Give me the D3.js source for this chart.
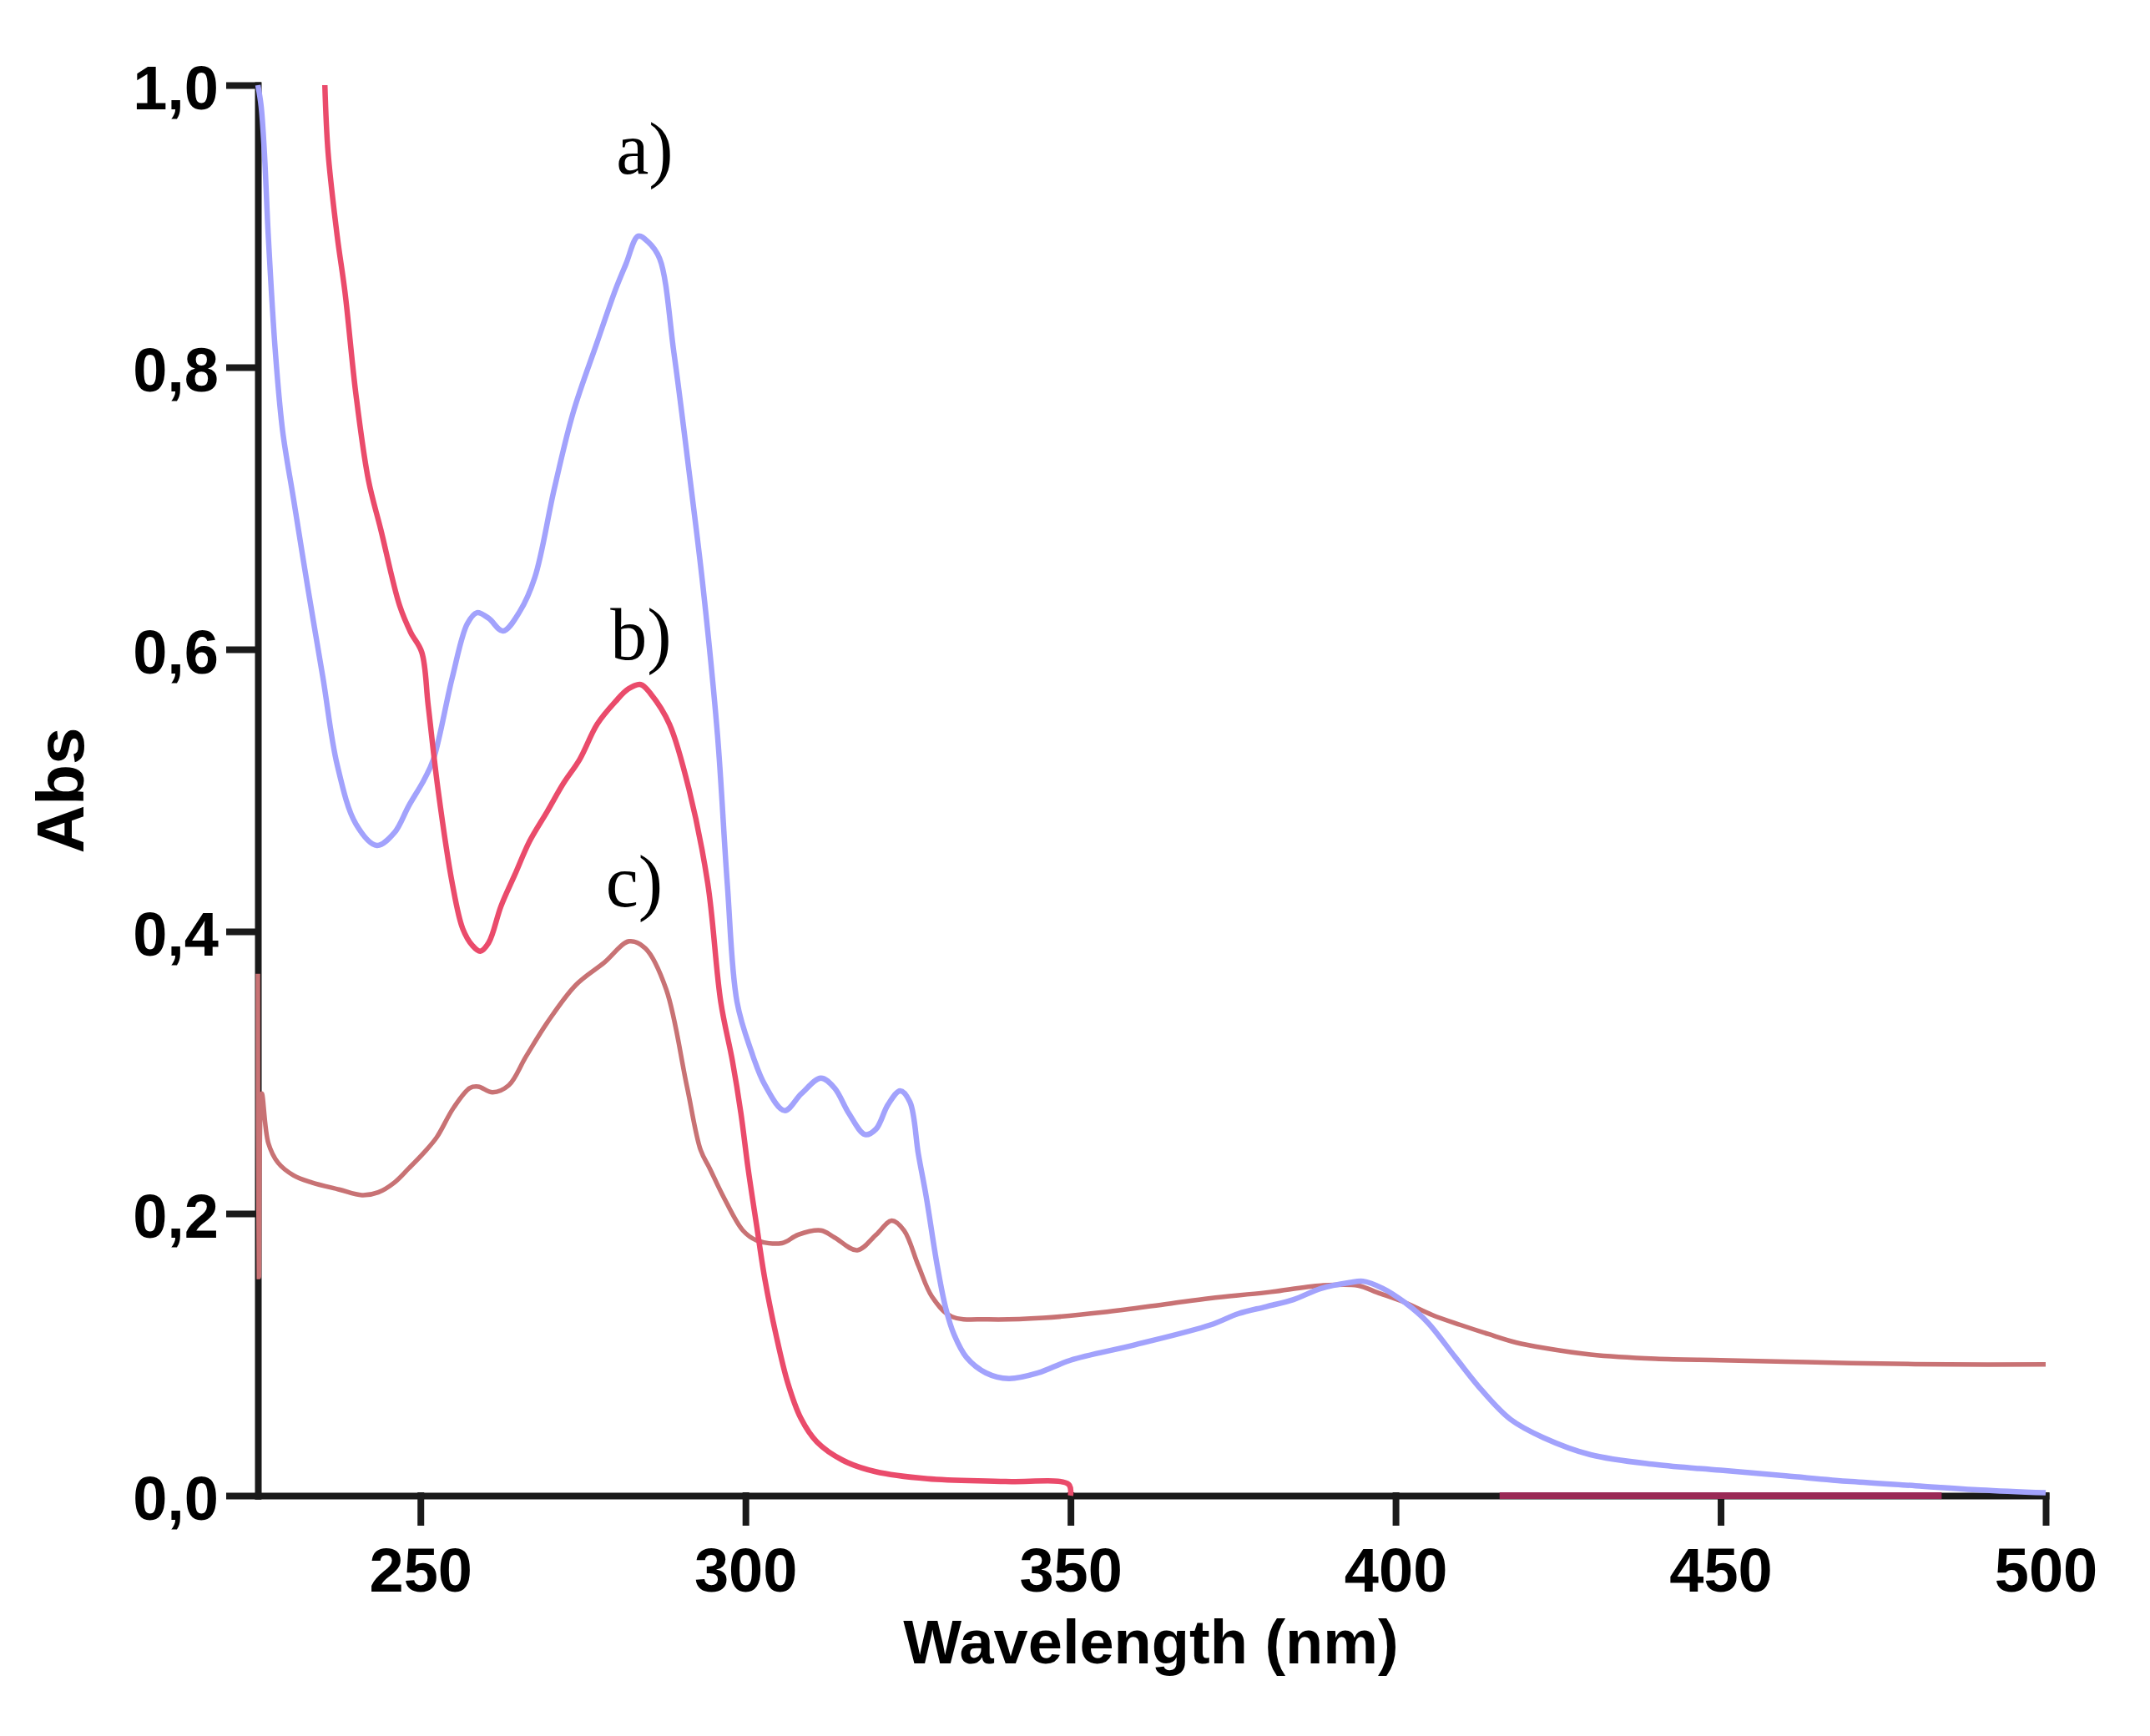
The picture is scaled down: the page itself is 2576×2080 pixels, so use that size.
<!DOCTYPE html>
<html>
<head>
<meta charset="utf-8">
<script src="https://cdn.jsdelivr.net/npm/d3@7"></script>
<style>
  html, body { margin: 0; padding: 0; background: #fff; }
  svg { display: block; }
</style>
</head>
<body>
<svg id="chart" width="2576" height="2080"></svg>
<script>
// spectra: [wavelength nm, absorbance]
const seriesA = [
  [225, 1.0], [225.5, 0.985], [226, 0.952], [226.6, 0.893], [227.7, 0.81], [228.8, 0.755],
  [230.5, 0.706], [232.7, 0.643], [235, 0.580], [237.2, 0.518], [240.1, 0.476], [243.3, 0.461],
  [246, 0.470], [248.2, 0.489], [250.5, 0.507], [252, 0.522], [254.9, 0.580], [257.2, 0.618],
  [258.7, 0.626], [260.5, 0.622], [262.7, 0.613], [265.3, 0.627], [267.6, 0.651], [270.6, 0.714],
  [273.5, 0.768], [277.2, 0.818], [280, 0.855], [281.6, 0.873], [283.5, 0.893], [285, 0.889],
  [286.8, 0.877], [289, 0.810], [291.3, 0.727], [293.5, 0.643], [295.7, 0.539], [297.2, 0.434],
  [298.7, 0.350], [300.9, 0.315], [303, 0.291], [306, 0.273], [308.6, 0.285], [311.6, 0.296],
  [313.7, 0.289], [315.9, 0.271], [318.4, 0.256], [320.1, 0.260], [321.9, 0.277], [323.8, 0.287],
  [325.3, 0.279], [326.6, 0.242], [327.8, 0.212], [329.5, 0.163], [330.8, 0.133], [332.1, 0.114],
  [334, 0.098], [337, 0.087], [340.5, 0.083], [345, 0.087], [350, 0.096], [360, 0.107],
  [371.5, 0.121], [375.8, 0.129], [380.1, 0.134], [384.3, 0.139], [388.6, 0.147], [392.9, 0.151],
  [395, 0.152], [398, 0.147], [401.4, 0.137], [404.9, 0.123], [409.2, 0.098], [413.4, 0.074],
  [417.7, 0.054], [422.8, 0.041], [430, 0.029], [440, 0.022], [450, 0.018], [460, 0.014],
  [470, 0.010], [480, 0.007], [490, 0.004], [500, 0.002]
];

const seriesB = [
  [235.3, 1.0], [235.8, 0.952], [237.2, 0.893], [238.4, 0.853], [240.1, 0.78], [242, 0.72],
  [243.9, 0.685], [246.8, 0.631], [248.5, 0.612], [250.2, 0.598], [251.2, 0.56], [252.7, 0.501],
  [254.9, 0.434], [256.5, 0.402], [258, 0.39], [259.2, 0.386], [260.5, 0.392], [262.4, 0.418],
  [264.5, 0.44], [266.8, 0.464], [269.5, 0.485], [272, 0.505], [274.5, 0.522], [277.2, 0.547],
  [280, 0.563], [282, 0.572], [283.9, 0.575], [285.5, 0.568], [288.3, 0.547], [291.3, 0.501],
  [294.2, 0.434], [296.2, 0.35], [298, 0.308], [299.3, 0.271], [300.4, 0.232], [301.7, 0.192],
  [303, 0.153], [304.7, 0.114], [306.5, 0.08], [308.5, 0.055], [311, 0.038], [315, 0.025],
  [320, 0.017], [328, 0.012], [340, 0.010], [349.7, 0.008], [350, 0.0]
];

const seriesC = [
  [225, 0.37], [225.15, 0.155], [225.6, 0.285], [226.6, 0.250], [228.1, 0.236], [230.5, 0.227],
  [233.3, 0.222], [237.5, 0.217], [241, 0.213], [243.5, 0.215], [246, 0.222], [248.2, 0.232],
  [250.5, 0.243], [252.5, 0.254], [255.1, 0.275], [257.6, 0.289], [258.9, 0.290], [261.1, 0.286],
  [263.6, 0.291], [266.2, 0.311], [269.6, 0.336], [273.9, 0.362], [278.3, 0.378], [282.1, 0.393],
  [284.6, 0.388], [287.8, 0.359], [291, 0.29], [293.1, 0.245], [294.5, 0.232], [296.6, 0.212],
  [299.6, 0.188], [301.7, 0.181], [305.6, 0.179], [308.1, 0.185], [311.6, 0.188], [313.7, 0.183],
  [317.2, 0.174], [320.1, 0.185], [322.5, 0.195], [324.4, 0.188], [326.6, 0.163], [328.7, 0.141],
  [331.7, 0.127], [337.3, 0.125], [345.8, 0.126], [355, 0.130], [365, 0.136], [371.5, 0.140],
  [380.1, 0.144], [388.6, 0.149], [394.2, 0.149], [397.2, 0.144], [401.4, 0.137], [405.7, 0.128],
  [410, 0.121], [414.3, 0.1145], [418.5, 0.1086], [422.8, 0.1047], [430, 0.100], [440, 0.097],
  [450, 0.096], [460, 0.095], [470, 0.094], [485, 0.093], [500, 0.093]
];

// piece of trace lying on the baseline
const seriesZero = [[416, 0], [484, 0]];

const xTicks = [250, 300, 350, 400, 450, 500];
const yTicks = [0, 0.2, 0.4, 0.6, 0.8, 1.0];
const curveLabels = [
  { text: "a)", wl: 280.1, abs: 0.937 },
  { text: "b)", wl: 279.2, abs: 0.593 },
  { text: "c)", wl: 278.5, abs: 0.418 }
];

const svg = d3.select("#chart");

const x = d3.scaleLinear().domain([225, 500]).range([309, 2451]);
const y = d3.scaleLinear().domain([0, 1]).range([1792, 102]);

const line = d3.line()
    .x(d => x(d[0]))
    .y(d => y(d[1]))
    .curve(d3.curveCatmullRom.alpha(0.5));

// axes
const fmt = d => d3.format(".1f")(d).replace(".", ",");

const yAxis = svg.append("g")
    .attr("transform", `translate(${x(225)},0)`)
    .call(d3.axisLeft(y).tickValues(yTicks).tickFormat(fmt).tickSize(34).tickSizeOuter(0).tickPadding(13));

const xAxis = svg.append("g")
    .attr("transform", `translate(0,${y(0)})`)
    .call(d3.axisBottom(x).tickValues(xTicks).tickSize(32).tickSizeOuter(0).tickPadding(30));

[xAxis, yAxis].forEach(a => {
    a.selectAll("path, line")
        .attr("stroke", "#1a1a1a")
        .attr("stroke-width", 8)
        .attr("stroke-linecap", "square");
    a.selectAll("text")
        .attr("fill", "#000")
        .style("font-family", "'Liberation Sans', Arial, sans-serif")
        .style("font-weight", "bold")
        .style("font-size", "74px");
});
yAxis.selectAll("text").attr("dy", "0.38em");

// spectra
svg.append("path")
    .datum(seriesC)
    .attr("d", line)
    .attr("fill", "none")
    .attr("stroke", "#c87274")
    .attr("stroke-width", 5.5);

svg.append("path")
    .datum(seriesA)
    .attr("d", line)
    .attr("fill", "none")
    .attr("stroke", "#a2a2fc")
    .attr("stroke-width", 6.5);

svg.append("path")
    .datum(seriesB)
    .attr("d", line)
    .attr("fill", "none")
    .attr("stroke", "#ea4b6b")
    .attr("stroke-width", 6.5);

svg.append("path")
    .datum(seriesZero)
    .attr("d", d3.line().x(d => x(d[0])).y(d => y(d[1])))
    .attr("fill", "none")
    .attr("stroke", "#9a2a55")
    .attr("stroke-width", 8);

// curve labels
svg.selectAll(".clabel")
    .data(curveLabels)
    .enter()
    .append("text")
    .attr("class", "clabel")
    .attr("x", d => x(d.wl))
    .attr("y", d => y(d.abs))
    .text(d => d.text)
    .style("font-family", "'Liberation Serif', 'DejaVu Serif', serif")
    .style("font-size", "88px")
    .attr("fill", "#000");

// axis titles
svg.append("text")
    .attr("x", 1379)
    .attr("y", 1993)
    .attr("text-anchor", "middle")
    .text("Wavelength (nm)")
    .style("font-family", "'Liberation Sans', Arial, sans-serif")
    .style("font-weight", "bold")
    .style("font-size", "74px");

svg.append("text")
    .attr("transform", "translate(100,947) rotate(-90)")
    .attr("text-anchor", "middle")
    .text("Abs")
    .style("font-family", "'Liberation Sans', Arial, sans-serif")
    .style("font-weight", "bold")
    .style("font-size", "80px");
</script>
</body>
</html>
